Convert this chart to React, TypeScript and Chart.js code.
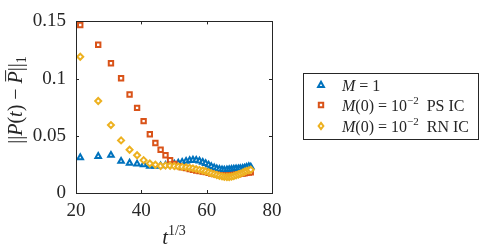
import { useEffect, useRef } from "react";
import { Chart, registerables } from "chart.js";

Chart.register(...registerables);

// t^{1/3} sample positions
const tValues = [
  21.3, 26.8, 30.7, 33.8, 36.4, 38.7, 40.7, 42.6, 44.3, 45.9,
  47.4, 48.8, 50.1, 51.3, 52.5, 53.7, 54.8, 55.8, 56.8, 57.8,
  58.8, 59.7, 60.6, 61.4, 62.3, 63.1, 63.9, 64.7, 65.4, 66.2,
  66.9, 67.6, 68.3, 69.0, 69.7, 70.3, 71.0, 71.6, 72.2, 72.9, 73.5,
];

// M = 1
const seriesM1 = [
  0.031, 0.0321, 0.033, 0.0279, 0.0262, 0.0254, 0.0247, 0.0235, 0.0235, 0.0238,
  0.0243, 0.0248, 0.0255, 0.0262, 0.027, 0.0278, 0.0284, 0.0288, 0.0287, 0.028,
  0.027, 0.0258, 0.0245, 0.0233, 0.0222, 0.0213, 0.0207, 0.0203, 0.0202, 0.0203,
  0.0205, 0.0208, 0.021, 0.0212, 0.0213, 0.0214, 0.0216, 0.022, 0.0226, 0.0232, 0.0228,
];

// M(0) = 10^-2 PS IC
const seriesPS = [
  0.1469, 0.1296, 0.1134, 0.1003, 0.0861, 0.0744, 0.0628, 0.0514, 0.0437, 0.0378,
  0.033, 0.0287, 0.0253, 0.0235, 0.0225, 0.0218, 0.021, 0.0203, 0.0197, 0.0192,
  0.0187, 0.0182, 0.0177, 0.0171, 0.0165, 0.016, 0.0156, 0.0153, 0.0152, 0.0152,
  0.0153, 0.0155, 0.0158, 0.0161, 0.0164, 0.0167, 0.017, 0.0173, 0.0176, 0.0178, 0.018,
];

// M(0) = 10^-2 RN IC
const seriesRN = [
  0.1191, 0.0804, 0.0594, 0.046, 0.0378, 0.033, 0.0287, 0.0258, 0.0247, 0.0236,
  0.024, 0.0238, 0.0235, 0.0232, 0.0228, 0.0225, 0.022, 0.0215, 0.0208, 0.0202,
  0.0197, 0.019, 0.0182, 0.0173, 0.0165, 0.0157, 0.015, 0.0145, 0.0141, 0.014,
  0.014, 0.0143, 0.0148, 0.0155, 0.0162, 0.017, 0.0178, 0.0186, 0.0193, 0.0198, 0.0203,
];

const xTicks = [20, 40, 60, 80];
const xTickLabels = ["20", "40", "60", "80"];
const yTicks = [0, 0.05, 0.1, 0.15];
const yTickLabels = ["0", "0.05", "0.1", "0.15"];

const BLUE = "#0072BD";
const RED = "#D95319";
const YELLOW = "#EDB120";
const AXIS = "#262626";
const SERIF = "'Liberation Serif', 'Times New Roman', serif";

type Seg = { t: string; italic?: boolean; sup?: boolean; sub?: boolean; bar?: boolean };

const legendItems: { color: string; shape: string; segs: Seg[] }[] = [
  { color: BLUE, shape: "triangle", segs: [{ t: "M", italic: true }, { t: " = 1" }] },
  {
    color: RED,
    shape: "rect",
    segs: [{ t: "M", italic: true }, { t: "(0) = 10" }, { t: "\u22122", sup: true }, { t: "  PS IC" }],
  },
  {
    color: YELLOW,
    shape: "diamond",
    segs: [{ t: "M", italic: true }, { t: "(0) = 10" }, { t: "\u22122", sup: true }, { t: "  RN IC" }],
  },
];

function drawMarker(ctx: CanvasRenderingContext2D, shape: string, x: number, y: number, color: string) {
  ctx.save();
  ctx.strokeStyle = color;
  ctx.fillStyle = "#ffffff";
  ctx.lineWidth = 2;
  ctx.beginPath();
  if (shape === "triangle") {
    ctx.moveTo(x, y - 3.2);
    ctx.lineTo(x + 2.9, y + 1.9);
    ctx.lineTo(x - 2.9, y + 1.9);
    ctx.closePath();
  } else if (shape === "rect") {
    ctx.rect(x - 2.2, y - 2.2, 4.4, 4.4);
  } else {
    ctx.moveTo(x, y - 3.2);
    ctx.lineTo(x + 2.4, y);
    ctx.lineTo(x, y + 3.2);
    ctx.lineTo(x - 2.4, y);
    ctx.closePath();
  }
  ctx.fill();
  ctx.stroke();
  ctx.restore();
}

function drawSegs(ctx: CanvasRenderingContext2D, segs: Seg[], x: number, baseline: number, size: number, measureOnly = false) {
  let cx = x;
  for (const s of segs) {
    const sz = s.sup || s.sub ? Math.round(size * 0.68) : size;
    ctx.font = `${s.italic ? "italic " : ""}${sz}px ${SERIF}`;
    const dy = s.sup ? -size * 0.42 : s.sub ? size * 0.22 : 0;
    const w = ctx.measureText(s.t).width;
    if (!measureOnly) {
      ctx.fillText(s.t, cx, baseline + dy);
      if (s.bar) {
        ctx.save();
        ctx.strokeStyle = AXIS;
        ctx.lineWidth = 1;
        ctx.beginPath();
        const by = baseline - size * 0.82;
        ctx.moveTo(cx + 2, by);
        ctx.lineTo(cx + w + 1, by);
        ctx.stroke();
        ctx.restore();
      }
    }
    cx += w;
  }
  return cx - x;
}

const framePlugin = {
  id: "frame",
  afterDraw(chart: any) {
    const { ctx, chartArea } = chart;
    const { left, right, top, bottom } = chartArea;
    const xs = chart.scales.x;
    const ys = chart.scales.y;
    ctx.save();
    ctx.strokeStyle = AXIS;
    ctx.lineWidth = 1;
    ctx.strokeRect(Math.round(left) + 0.5, Math.round(top) + 0.5, Math.round(right - left), Math.round(bottom - top));
    ctx.beginPath();
    for (const v of xTicks) {
      const px = Math.round(xs.getPixelForValue(v)) + 0.5;
      if (px <= left + 1 || px >= right - 1) continue;
      ctx.moveTo(px, bottom);
      ctx.lineTo(px, bottom - 3);
      ctx.moveTo(px, top);
      ctx.lineTo(px, top + 3);
    }
    for (const v of yTicks) {
      const py = Math.round(ys.getPixelForValue(v)) + 0.5;
      if (py <= top + 1 || py >= bottom - 1) continue;
      ctx.moveTo(left, py);
      ctx.lineTo(left + 3, py);
      ctx.moveTo(right, py);
      ctx.lineTo(right - 3, py);
    }
    ctx.stroke();

    ctx.fillStyle = AXIS;
    ctx.textAlign = "left";
    ctx.textBaseline = "alphabetic";

    // x title: t^{1/3}
    const xSegs: Seg[] = [{ t: "t", italic: true }, { t: "1/3", sup: true }];
    const xw = drawSegs(ctx, xSegs, 0, 0, 21, true);
    drawSegs(ctx, xSegs, (left + right) / 2 - xw / 2, 244, 21);

    // y title: ||P(t) - P̄||_1
    const ySegs: Seg[] = [
      { t: "||" },
      { t: "P", italic: true },
      { t: "(" },
      { t: "t", italic: true },
      { t: ")" },
      { t: " \u2212 " },
      { t: "P", italic: true, bar: true },
      { t: "||" },
      { t: "1", sub: true },
    ];
    const yw = drawSegs(ctx, ySegs, 0, 0, 20, true);
    ctx.save();
    ctx.translate(22, 100);
    ctx.rotate(-Math.PI / 2);
    drawSegs(ctx, ySegs, -yw / 2, 0, 20);
    ctx.restore();

    // legend
    const lx = 303.5, ly = 73.5, lw = 175, lh = 66;
    ctx.fillStyle = "#ffffff";
    ctx.fillRect(lx, ly, lw, lh);
    ctx.strokeStyle = AXIS;
    ctx.lineWidth = 1;
    ctx.strokeRect(lx, ly, lw, lh);
    const rows = [85, 105, 126];
    legendItems.forEach((it, i) => {
      drawMarker(ctx, it.shape, 321, rows[i], it.color);
      ctx.fillStyle = AXIS;
      drawSegs(ctx, it.segs, 342, rows[i] + 5.5, 16);
    });
    ctx.restore();
  },
};

function makeData(vals: number[]) {
  return tValues.map((x, i) => ({ x, y: vals[i] }));
}

export default function App() {
  const ref = useRef<HTMLCanvasElement | null>(null);
  useEffect(() => {
    if (!ref.current) return;
    const common = { showLine: false, pointBorderWidth: 2, pointBackgroundColor: "#ffffff" };
    const chart = new Chart(ref.current, {
      type: "scatter",
      data: {
        datasets: [
          {
            label: "M = 1",
            data: makeData(seriesM1),
            pointStyle: "triangle",
            pointRadius: 3.2,
            borderColor: BLUE,
            pointBorderColor: BLUE,
            order: 2,
            ...common,
          },
          {
            label: "M(0) = 10^-2 PS IC",
            data: makeData(seriesPS),
            pointStyle: "rect",
            pointRadius: 3.1,
            borderColor: RED,
            pointBorderColor: RED,
            order: 1,
            ...common,
          },
          {
            label: "M(0) = 10^-2 RN IC",
            data: makeData(seriesRN),
            pointStyle: "rectRot",
            pointRadius: 3.0,
            borderColor: YELLOW,
            pointBorderColor: YELLOW,
            order: 0,
            ...common,
          },
        ],
      },
      options: {
        animation: false,
        responsive: false,
        events: [],
        layout: { padding: { left: 0, top: 17, right: 218, bottom: 0 } },
        plugins: { legend: { display: false }, tooltip: { enabled: false } },
        scales: {
          x: {
            type: "linear",
            min: 20,
            max: 80,
            grid: { display: false, drawTicks: false },
            border: { display: false },
            afterFit: (s: any) => {
              s.height = 56;
            },
            afterBuildTicks: (s: any) => {
              s.ticks = xTicks.map((v) => ({ value: v }));
            },
            ticks: {
              padding: 7,
              color: AXIS,
              font: { family: SERIF, size: 19 },
              maxRotation: 0,
              callback: (_v: any, i: number) => xTickLabels[i],
            },
          },
          y: {
            type: "linear",
            min: 0,
            max: 0.15,
            grid: { display: false, drawTicks: false },
            border: { display: false },
            afterFit: (s: any) => {
              s.width = 76;
            },
            afterBuildTicks: (s: any) => {
              s.ticks = yTicks.map((v) => ({ value: v }));
            },
            ticks: {
              padding: 10,
              color: AXIS,
              font: { family: SERIF, size: 19 },
              callback: (_v: any, i: number) => yTickLabels[i],
            },
          },
        },
      },
      plugins: [framePlugin],
    } as any);
    return () => chart.destroy();
  }, []);
  return (
    <div style={{ position: "fixed", left: 0, top: 0, width: 490, height: 249, background: "#ffffff" }}>
      <canvas ref={ref} width={490} height={249} style={{ display: "block" }} />
    </div>
  );
}
